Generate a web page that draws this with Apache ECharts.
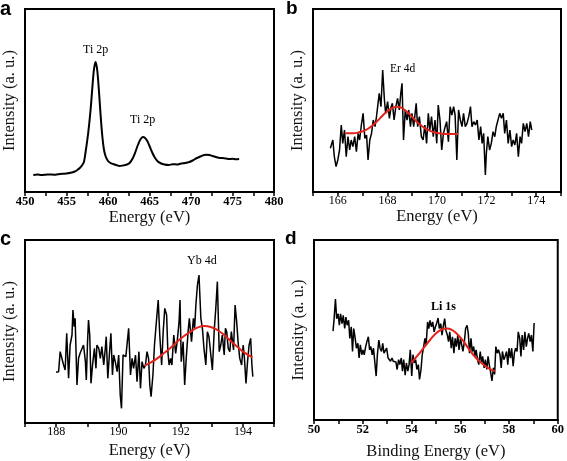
<!DOCTYPE html>
<html>
<head>
<meta charset="utf-8">
<script src="https://cdn.jsdelivr.net/npm/echarts@6/dist/echarts.min.js"></script>
<style>html,body{margin:0;padding:0;background:#fff}#c{width:567px;height:461px}</style>
</head>
<body>
<div id="c"></div>
<script>
// ---------- Panel a: Ti 2p ----------
var aEnergy = [451.0,451.5,452.0,452.5,453.0,453.5,454.0,454.5,455.0,455.5,456.0,456.3,456.6,456.9,457.1,457.3,457.6,457.9,458.1,458.3,458.5,458.7,458.9,459.1,459.3,459.5,459.7,460.0,460.3,460.6,461.0,461.4,461.8,462.2,462.6,463.0,463.3,463.6,463.9,464.2,464.4,464.7,465.0,465.3,465.6,466.0,466.4,466.8,467.3,467.8,468.3,468.8,469.3,469.8,470.2,470.6,471.0,471.4,471.8,472.2,472.6,473.0,473.5,474.0,474.5,475.0,475.4,475.8];
var aIntensity = [17,17.5,17,17.3,17.6,17.3,17.8,18.2,18.5,19.2,20.5,22,24,27,30,40,58,82,103,122,130,122,102,78,57,43,36,31,29,28,27,26,26.5,27.2,29,34,40,47,52.5,55,54.5,51.5,46,40,35,30.5,28.5,27.5,27,27.8,27.5,28.5,29,30,31.5,33.5,35,36.5,37.2,37,36,35,34,33.8,33,33.2,32.8,33];

// ---------- Panel b: Er 4d ----------
var bEnergy = [165.70,165.80,165.86,165.93,166.00,166.07,166.14,166.20,166.27,166.34,166.41,166.48,166.54,166.61,166.68,166.75,166.82,166.88,166.95,167.02,167.09,167.16,167.22,167.29,167.36,167.43,167.50,167.56,167.63,167.67,167.74,167.81,167.88,167.93,168.01,168.08,168.15,168.20,168.27,168.34,168.41,168.48,168.54,168.59,168.65,168.72,168.79,168.86,168.93,168.99,169.06,169.16,169.22,169.29,169.37,169.44,169.51,169.58,169.65,169.71,169.78,169.85,169.92,169.99,170.05,170.12,170.19,170.26,170.33,170.39,170.46,170.53,170.60,170.67,170.73,170.80,170.87,170.94,171.01,171.07,171.14,171.21,171.28,171.35,171.41,171.48,171.55,171.62,171.69,171.76,171.82,171.88,171.95,171.99,172.05,172.12,172.19,172.26,172.33,172.39,172.46,172.53,172.60,172.67,172.73,172.80,172.87,172.94,173.01,173.07,173.14,173.21,173.28,173.35,173.41,173.48,173.55,173.62,173.69,173.76,173.82];
var bIntensity = [135,160,110,80,100,130,205,150,190,110,170,130,160,140,170,125,180,160,205,240,165,175,100,160,180,220,200,230,225,300,260,370,280,240,275,225,260,270,220,260,285,250,300,330,160,250,220,250,200,240,200,270,200,230,170,160,205,150,240,190,230,170,220,150,265,220,130,180,200,215,155,260,235,260,235,100,250,220,200,240,200,210,230,260,200,215,205,220,160,200,150,180,55,120,170,130,150,185,170,200,220,240,225,240,180,220,150,190,140,160,145,180,110,170,150,210,185,210,170,215,190];
var bFitEnergy = [166.30,166.60,166.90,167.10,167.30,167.50,167.70,167.90,168.10,168.25,168.40,168.55,168.70,168.90,169.10,169.30,169.50,169.70,169.90,170.20,170.50,170.85];
var bFitIntensity = [180,180,184,189,198,210,225,240,252,258,260,257,250,237,221,207,196,188,183,179,178,178];

// ---------- Panel c: Yb 4d ----------
var cEnergy = [188.00,188.08,188.13,188.18,188.24,188.29,188.34,188.40,188.45,188.51,188.54,188.58,188.61,188.67,188.72,188.77,188.83,188.88,188.94,188.97,189.01,189.04,189.08,189.12,189.17,189.23,189.28,189.31,189.37,189.42,189.47,189.53,189.58,189.61,189.66,189.71,189.76,189.81,189.85,189.90,189.96,190.01,190.06,190.10,190.15,190.19,190.24,190.28,190.33,190.39,190.44,190.49,190.55,190.60,190.66,190.71,190.76,190.82,190.87,190.92,190.97,191.01,191.05,191.11,191.16,191.23,191.28,191.33,191.39,191.44,191.49,191.55,191.59,191.63,191.68,191.72,191.78,191.84,191.89,191.95,191.98,192.02,192.08,192.13,192.18,192.24,192.28,192.32,192.35,192.41,192.45,192.49,192.54,192.59,192.65,192.70,192.75,192.81,192.86,192.91,192.97,193.02,193.08,193.13,193.18,193.24,193.29,193.34,193.40,193.44,193.48,193.53,193.58,193.63,193.70,193.75,193.80,193.85,193.90,193.96,194.01,194.05,194.10,194.15,194.20,194.25,194.29,194.32];
var cIntensity = [158,160,220,225,180,165,275,140,240,270,345,295,320,120,200,215,210,240,190,135,250,315,270,125,180,230,170,240,230,200,235,180,230,265,140,210,275,150,210,190,160,210,90,50,210,215,205,210,290,150,200,170,210,130,220,110,190,170,180,220,200,120,85,150,240,320,375,270,180,280,350,330,220,180,200,180,270,215,250,310,375,190,250,120,200,280,320,325,250,320,290,360,420,450,320,290,230,180,280,265,265,165,285,350,430,220,240,270,210,290,280,230,220,280,225,360,310,245,200,180,240,200,125,190,240,260,180,145];
var cFitEnergy = [190.85,191.03,191.25,191.46,191.68,191.89,192.11,192.32,192.54,192.77,192.97,193.18,193.40,193.61,193.83,194.04,194.31];
var cFitIntensity = [178,187,200,215,232,250,267,280,292,297,294,285,270,252,234,218,203];

// ---------- Panel d: Li 1s ----------
var dEnergy = [50.78,50.82,50.88,50.93,50.99,51.04,51.09,51.15,51.20,51.26,51.31,51.36,51.42,51.47,51.53,51.58,51.63,51.69,51.74,51.80,51.85,51.90,51.96,52.01,52.06,52.12,52.17,52.23,52.28,52.33,52.39,52.44,52.50,52.55,52.60,52.66,52.71,52.77,52.82,52.87,52.93,52.98,53.04,53.09,53.14,53.20,53.25,53.31,53.36,53.41,53.47,53.52,53.58,53.63,53.68,53.74,53.79,53.85,53.90,53.95,54.01,54.06,54.12,54.17,54.22,54.28,54.33,54.39,54.44,54.49,54.55,54.60,54.66,54.71,54.76,54.82,54.87,54.93,54.98,55.03,55.09,55.14,55.20,55.25,55.30,55.36,55.41,55.47,55.52,55.57,55.63,55.68,55.74,55.79,55.84,55.90,55.95,56.01,56.06,56.11,56.17,56.22,56.28,56.33,56.38,56.44,56.49,56.55,56.60,56.65,56.71,56.76,56.82,56.87,56.92,56.98,57.03,57.09,57.14,57.19,57.25,57.30,57.36,57.41,57.46,57.52,57.57,57.63,57.68,57.73,57.79,57.84,57.90,57.95,58.00,58.06,58.11,58.17,58.22,58.27,58.33,58.38,58.44,58.49,58.54,58.60,58.65,58.71,58.76,58.81,58.87,58.92,58.98,59.03];
var dIntensity = [272,305,370,310,325,290,325,295,320,280,315,290,305,250,285,210,280,250,220,235,190,230,200,215,200,225,240,255,215,225,200,220,225,135,200,245,220,210,235,205,200,220,190,185,180,190,180,182,178,155,185,170,190,150,185,138,175,150,170,215,135,200,175,185,155,170,125,155,200,220,250,230,300,280,305,285,300,270,285,295,312,280,295,260,285,310,275,260,240,270,220,255,205,250,225,260,215,250,230,210,240,280,290,265,205,250,210,225,195,215,185,170,210,175,195,160,185,155,195,170,145,120,160,140,225,205,215,200,160,210,185,195,210,170,220,190,220,165,205,220,210,270,250,195,260,215,270,225,250,265,240,260,210,297];
var dFitEnergy = [53.98,54.22,54.49,54.76,55.03,55.24,55.45,55.65,55.85,56.12,56.38,56.65,56.92,57.19,57.43];
var dFitIntensity = [175,195,220,245,267,277,280,276,265,242,215,190,172,158,150];

// ---------- axis settings ----------
var aTicks = {min: 450, max: 480, interval: 5};
var bTicks = {min: 165, max: 175, interval: 1};
var cTicks = {min: 187, max: 195, interval: 1};
var dTicks = {min: 50, max: 60, interval: 2};

function pairs(xs, ys) { return xs.map(function (x, i) { return [x, ys[i]]; }); }

var SERIF = "'Liberation Serif','Times New Roman',serif";
var SANS = "'Liberation Sans',Arial,sans-serif";

function xAxis(idx, t, opts) {
  return {
    type: 'value', gridIndex: idx, min: t.min, max: t.max, interval: t.interval,
    name: opts.name, nameLocation: 'middle', nameGap: opts.nameGap,
    nameTextStyle: {fontFamily: SERIF, fontSize: 16.5, color: '#111'},
    axisLine: {show: true, onZero: false, lineStyle: {color: '#000', width: 2}},
    axisTick: {show: true, inside: false, length: 4, lineStyle: {color: '#000', width: 1.5}},
    minorTick: {show: !!opts.minor, splitNumber: 2, length: 4, lineStyle: {color: '#000', width: 1.5}},
    axisLabel: {
      margin: 3, fontFamily: SERIF, fontSize: opts.bold ? 12.5 : 12, color: '#000', fontWeight: opts.bold ? 'bold' : 'normal',
      formatter: opts.even ? function (v) { return (Math.round(v) % 2 === 0) ? String(v) : ''; } : function (v) { return String(v); }
    },
    splitLine: {show: false}
  };
}
function yAxis(idx, mn, mx) {
  return {
    type: 'value', gridIndex: idx, min: mn, max: mx,
    name: 'Intensity (a. u.)', nameLocation: 'middle', nameGap: 7, nameRotate: 90,
    nameTextStyle: {fontFamily: SERIF, fontSize: 16.5, color: '#111'},
    axisLine: {show: true, lineStyle: {color: '#000', width: 2}},
    axisTick: {show: false}, axisLabel: {show: false}, splitLine: {show: false}
  };
}
function dataLine(idx, xs, ys, w, smooth) {
  return {type: 'line', xAxisIndex: idx, yAxisIndex: idx, data: pairs(xs, ys), showSymbol: false,
    smooth: smooth || false, lineStyle: {color: '#000', width: w}, silent: true, animation: false};
}
function fitLine(idx, xs, ys) {
  return {type: 'line', xAxisIndex: idx, yAxisIndex: idx, data: pairs(xs, ys), showSymbol: false,
    smooth: true, lineStyle: {color: '#e3231b', width: 2}, silent: true, animation: false, z: 3};
}
var gridStyle = {show: true, borderColor: '#000', borderWidth: 2, backgroundColor: 'transparent'};

function txt(x, y, s, size, font, weight, align) {
  return {type: 'text', left: x, top: y, style: {text: s, fontSize: size, fontFamily: font, fontWeight: weight || 'normal', fill: '#000', align: align || 'left'}};
}

var chart = echarts.init(document.getElementById('c'), null, {renderer: 'canvas', width: 567, height: 461});
chart.setOption({
  animation: false,
  backgroundColor: '#fff',
  grid: [
    Object.assign({left: 25, top: 9, width: 249, height: 183}, gridStyle),
    Object.assign({left: 313, top: 9, width: 248, height: 183}, gridStyle),
    Object.assign({left: 25, top: 240, width: 249, height: 183}, gridStyle),
    Object.assign({left: 314, top: 240, width: 247, height: 183}, gridStyle)
  ],
  xAxis: [
    xAxis(0, aTicks, {name: 'Energy (eV)', nameGap: 12, minor: true, bold: true}),
    xAxis(1, bTicks, {name: 'Energy (eV)', nameGap: 12, even: true}),
    xAxis(2, cTicks, {name: 'Energy (eV)', nameGap: 19, even: true}),
    xAxis(3, dTicks, {name: 'Binding Energy (eV)', nameGap: 23, minor: true, bold: true})
  ],
  yAxis: [yAxis(0, 0, 183), yAxis(1, 4, 553), yAxis(2, 6, 555), yAxis(3, 1, 550)],
  series: [
    dataLine(0, aEnergy, aIntensity, 2, 0.3),
    dataLine(1, bEnergy, bIntensity, 1.5),
    fitLine(1, bFitEnergy, bFitIntensity),
    dataLine(2, cEnergy, cIntensity, 1.5),
    fitLine(2, cFitEnergy, cFitIntensity),
    dataLine(3, dEnergy, dIntensity, 1.5),
    fitLine(3, dFitEnergy, dFitIntensity)
  ],
  graphic: [
    txt(0, -1, 'a', 20, SANS, 'bold'),
    txt(286, -1, 'b', 19, SANS, 'bold'),
    txt(0, 229, 'c', 20, SANS, 'bold'),
    txt(285, 229, 'd', 19, SANS, 'bold'),
    txt(83, 44, 'Ti 2p', 12, SERIF),
    txt(130, 114, 'Ti 2p', 12, SERIF),
    txt(390, 63, 'Er 4d', 11.5, SERIF),
    txt(187, 255, 'Yb 4d', 12, SERIF),
    txt(431, 301, 'Li 1s', 12, SERIF, 'bold')
  ]
});
</script>
</body>
</html>
